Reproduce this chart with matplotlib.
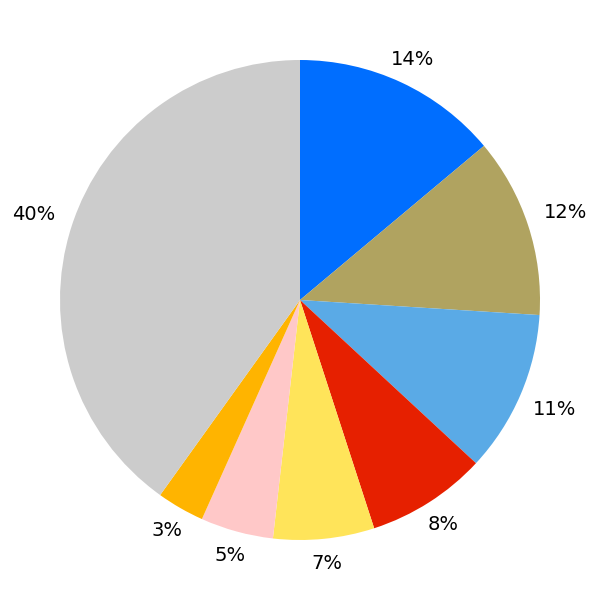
import matplotlib
matplotlib.use("Agg")
import matplotlib.pyplot as plt
import numpy as np

values = [13.9, 12.1, 10.9, 8.1, 6.8, 4.9, 3.2, 40.1]
labels = ["14%", "12%", "11%", "8%", "7%", "5%", "3%", "40%"]
colors = ["#006EFF", "#B0A360", "#5AAAE6", "#E62000", "#FFE45A", "#FFC8C8", "#FFB400", "#CCCCCC"]

fig = plt.figure(figsize=(6, 6), dpi=100)
ax = fig.add_axes([0, 0, 1, 1])
wedges, texts = ax.pie(values, colors=colors, startangle=90, counterclock=False,
                       labels=labels, labeldistance=1.11,
                       textprops={"fontsize": 14, "color": "black"})
ax.set_xlim(-1.25, 1.25)
ax.set_ylim(-1.25, 1.25)
ax.set_aspect("equal")

fig.canvas.draw()
renderer = fig.canvas.get_renderer()
px_per_unit = 240.0
gap = 17.0 / px_per_unit
for w, t in zip(wedges, texts):
    t.set_horizontalalignment("center")
    t.set_verticalalignment("center")
    bb = t.get_window_extent(renderer)
    hw = bb.width / 2 / px_per_unit
    hh = bb.height / 2 / px_per_unit * 0.85
    ang = np.deg2rad((w.theta1 + w.theta2) / 2)
    c, s = abs(np.cos(ang)), abs(np.sin(ang))
    d = min(hw / c if c > 1e-6 else 1e9, hh / s if s > 1e-6 else 1e9)
    r = 1 + gap + d
    t.set_position((r * np.cos(ang), r * np.sin(ang)))

fig.savefig("out.png", dpi=100)
